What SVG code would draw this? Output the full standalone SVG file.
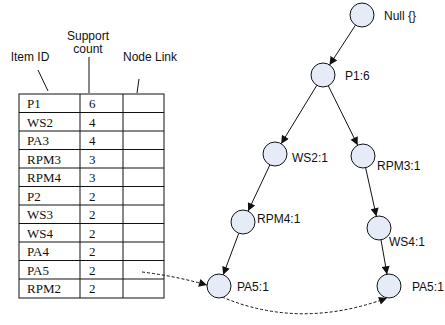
<svg xmlns="http://www.w3.org/2000/svg" width="445" height="325" viewBox="0 0 445 325">
<style>
.lbl{font-family:"Liberation Sans",Arial,sans-serif;font-size:12px;fill:#111}
.cell{font-family:"Liberation Serif","Times New Roman",serif;font-size:13px;fill:#111}
.node{fill:#e6ecf7;stroke:#111;stroke-width:1}
.edge{stroke:#111;stroke-width:1;fill:none}
.dash{stroke:#111;stroke-width:1;fill:none;stroke-dasharray:3,2}
.grid{stroke:#111;stroke-width:1;fill:none}
</style>
<defs>
<marker id="arr" viewBox="0 0 10 10" refX="10" refY="5" markerUnits="userSpaceOnUse" markerWidth="11" markerHeight="8" orient="auto">
<path d="M0,0 L10,5 L0,10 z" fill="#111"/>
</marker>
</defs>
<rect width="445" height="325" fill="#fff"/>
<g id="headers">
<text class="lbl" x="30" y="61" text-anchor="middle">Item ID</text>
<text class="lbl" x="88" y="40" text-anchor="middle">Support</text>
<text class="lbl" x="88" y="53" text-anchor="middle">count</text>
<text class="lbl" x="150" y="61" text-anchor="middle">Node Link</text>
<line class="edge" x1="38" y1="70" x2="48" y2="91"/>
<line class="edge" x1="89" y1="57" x2="89" y2="93"/>
<line class="edge" x1="139" y1="79" x2="137" y2="93"/>
</g>
<g id="table">
<rect class="grid" x="19" y="94" width="145" height="204"/>
<line class="grid" x1="80" y1="94" x2="80" y2="298"/>
<line class="grid" x1="123" y1="94" x2="123" y2="298"/>
<g class="grid">
<line x1="19" y1="112.5" x2="164" y2="112.5"/>
<line x1="19" y1="131" x2="164" y2="131"/>
<line x1="19" y1="149.5" x2="164" y2="149.5"/>
<line x1="19" y1="168" x2="164" y2="168"/>
<line x1="19" y1="186.5" x2="164" y2="186.5"/>
<line x1="19" y1="205" x2="164" y2="205"/>
<line x1="19" y1="223.5" x2="164" y2="223.5"/>
<line x1="19" y1="242" x2="164" y2="242"/>
<line x1="19" y1="260.5" x2="164" y2="260.5"/>
<line x1="19" y1="279" x2="164" y2="279"/>
</g>
<text class="cell" x="27" y="108">P1</text><text class="cell" x="89" y="108">6</text>
<text class="cell" x="27" y="126.5">WS2</text><text class="cell" x="89" y="126.5">4</text>
<text class="cell" x="27" y="145">PA3</text><text class="cell" x="89" y="145">4</text>
<text class="cell" x="27" y="163.5">RPM3</text><text class="cell" x="89" y="163.5">3</text>
<text class="cell" x="27" y="182">RPM4</text><text class="cell" x="89" y="182">3</text>
<text class="cell" x="27" y="200.5">P2</text><text class="cell" x="89" y="200.5">2</text>
<text class="cell" x="27" y="219">WS3</text><text class="cell" x="89" y="219">2</text>
<text class="cell" x="27" y="237.5">WS4</text><text class="cell" x="89" y="237.5">2</text>
<text class="cell" x="27" y="256">PA4</text><text class="cell" x="89" y="256">2</text>
<text class="cell" x="27" y="274.5">PA5</text><text class="cell" x="89" y="274.5">2</text>
<text class="cell" x="27" y="293">RPM2</text><text class="cell" x="89" y="293">2</text>
</g>
<g id="connectors">
<line class="edge" x1="355.5" y1="25.1" x2="329.5" y2="65" marker-end="url(#arr)"/>
<line class="edge" x1="316.8" y1="85.3" x2="281.2" y2="143.7" marker-end="url(#arr)"/>
<line class="edge" x1="328.3" y1="85.8" x2="357.7" y2="145.2" marker-end="url(#arr)"/>
<line class="edge" x1="269.9" y1="164.9" x2="248.1" y2="211.1" marker-end="url(#arr)"/>
<line class="edge" x1="365.6" y1="167.7" x2="376.4" y2="216.3" marker-end="url(#arr)"/>
<line class="edge" x1="238.8" y1="233.2" x2="223.2" y2="274.8" marker-end="url(#arr)"/>
<line class="edge" x1="381" y1="239.8" x2="387" y2="274.2" marker-end="url(#arr)"/>
<path class="dash" d="M142,272 Q175,276 207,285" marker-end="url(#arr)"/>
<path class="dash" d="M222,297 Q300,330 387,298" marker-end="url(#arr)"/>
</g>
<g id="node-null"><circle class="node" cx="362" cy="15" r="12"/><text class="lbl" x="384" y="20">Null {}</text></g>
<g id="node-p1"><circle class="node" cx="323" cy="75" r="12"/><text class="lbl" x="345" y="80">P1:6</text></g>
<g id="node-ws2"><circle class="node" cx="275" cy="154" r="12"/><text class="lbl" x="292" y="162">WS2:1</text></g>
<g id="node-rpm3"><circle class="node" cx="363" cy="156" r="12"/><text class="lbl" x="377" y="170">RPM3:1</text></g>
<g id="node-rpm4"><circle class="node" cx="243" cy="222" r="12"/><text class="lbl" x="257" y="223">RPM4:1</text></g>
<g id="node-ws4"><circle class="node" cx="379" cy="228" r="12"/><text class="lbl" x="389" y="246">WS4:1</text></g>
<g id="node-pa5-left"><circle class="node" cx="219" cy="286" r="12"/><text class="lbl" x="237" y="291">PA5:1</text></g>
<g id="node-pa5-right"><circle class="node" cx="389" cy="286" r="12"/><text class="lbl" x="412" y="291">PA5:1</text></g>
</svg>
